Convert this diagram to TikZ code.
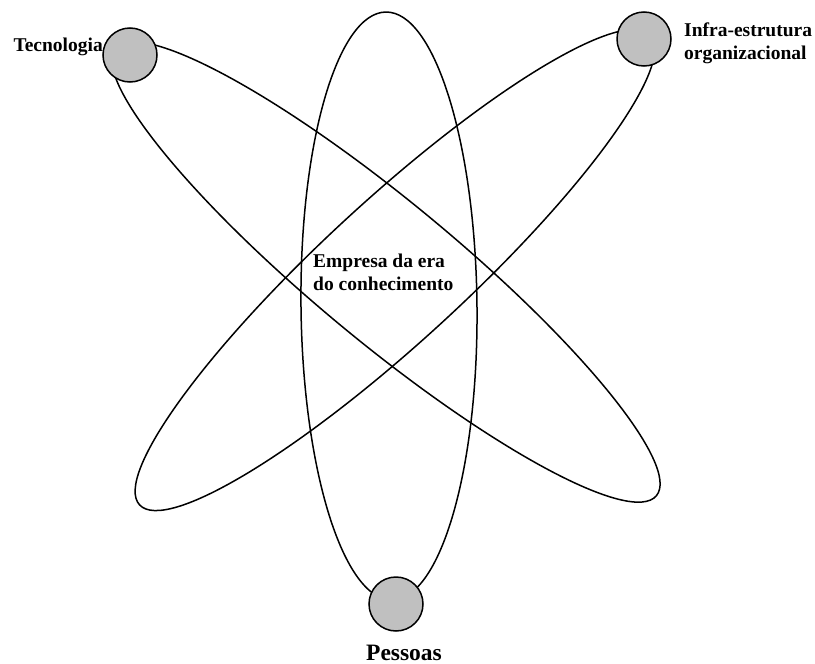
\documentclass[tikz,border=0pt]{standalone}
\usepackage{fontspec}
\setmainfont{Liberation Serif}
\begin{document}
\begin{tikzpicture}[x=1pt,y=-1pt,
  orbit/.style={draw=black,line width=1.5pt},
  ball/.style={circle,draw=black,line width=1.5pt,fill={rgb,255:red,192;green,192;blue,192},minimum size=54pt,inner sep=0pt},
  lbl/.style={inner sep=0pt,font=\fontsize{19.5}{22.5}\selectfont\bfseries,align=left}]
\useasboundingbox (0,0) rectangle (815,664);
% centres of the three orbits
\coordinate (cv) at (389,306);
\coordinate (c1) at (386,272);
\coordinate (c2) at (395,270);
% orbits
\draw[orbit,rotate around={0.6:(cv)}] (cv) ellipse [x radius=88, y radius=294];
\draw[orbit,rotate around={-39.6:(c1)}] (c1) ellipse [x radius=351, y radius=70];
\draw[orbit,rotate around={42.6:(c2)}] (c2) ellipse [x radius=347, y radius=70.5];
% the three spheres
\node[ball] (tec) at (130,55) {};
\node[ball] (inf) at (644,39) {};
\node[ball] (pes) at (396,604) {};
% labels (multi-line nodes sit on the baseline of their last line)
\node[lbl,anchor=base east] (ltec) at (103,51) {Tecnologia};
\node[lbl,anchor=base west] (linf) at (684,59) {Infra-estrutura\\organizacional};
\node[lbl,anchor=base west] (lemp) at (313,290) {Empresa da era\\do conhecimento};
\node[lbl,anchor=base,font=\fontsize{23.5}{26}\selectfont\bfseries] (lpes) at (404,660) {Pessoas};
\end{tikzpicture}
\end{document}
